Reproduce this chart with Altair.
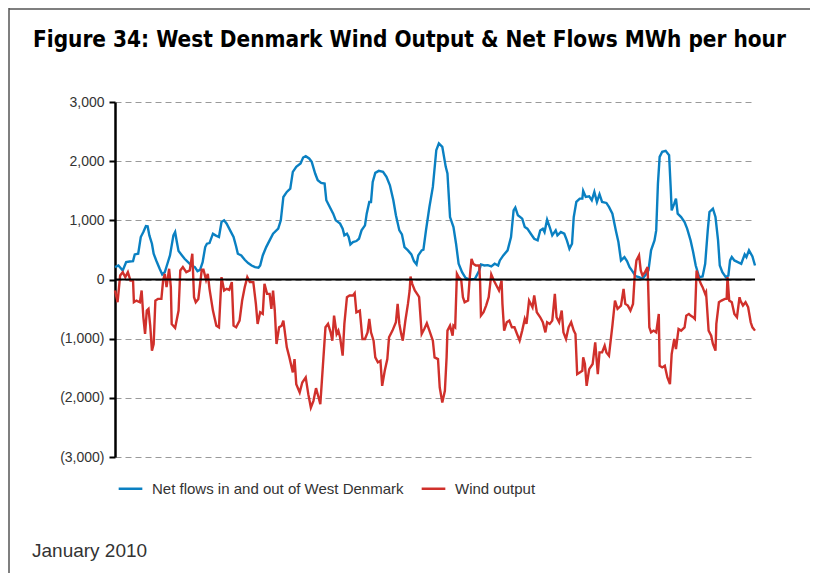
import altair as alt
import pandas as pd

SERIES = ["Net flows in and out of West Denmark", "Wind output"]

net_hours = [0, 4, 9, 13, 17, 21, 23, 27, 30, 33, 36, 38, 40, 43, 45, 48, 52, 55, 58, 61, 64, 66, 68, 70, 72, 74, 78, 81, 85, 89,
             93, 96, 99, 102, 105, 107, 110, 114, 117, 121, 124, 127, 130, 134, 138, 141, 143, 147, 151, 155, 159, 163, 167, 169, 172, 176,
             180, 184, 190, 193, 196, 200, 204, 207, 211, 216, 219, 222, 226, 229, 233, 236, 240, 244, 246, 250, 254, 257, 262, 265, 267,
             270, 272, 274, 277, 281, 284, 287, 291, 293, 296, 298, 300, 303, 307, 312, 316, 320, 324, 327, 331, 334, 337, 341, 345, 348,
             351, 353, 357, 359, 362, 366, 370, 374, 377, 381, 385, 387, 390, 394, 397, 400, 404, 408, 413, 419, 424, 426, 430, 434, 438,
             442, 446, 448, 452, 457, 461, 464, 466, 469, 474, 477, 480, 484, 488, 492, 495, 498, 500, 503, 506, 509, 513, 515, 519, 523,
             526, 529, 532, 534, 537, 541, 544, 545, 548, 552, 555, 558, 561, 564, 567, 572, 575, 579, 583, 586, 589, 593, 596, 599, 603,
             606, 610, 614, 618, 621, 624, 628, 630, 632, 634, 637, 641, 645, 647, 648, 651, 653, 655, 659, 663, 666, 670, 673, 676, 680,
             684, 687, 690, 692, 696, 699, 702, 704, 707, 711, 714, 716, 718, 721, 725, 729, 733, 735, 738, 742, 745]
net_flows = [209, 237, 153, 294, 305, 310, 424, 435, 718, 802, 904, 900, 746, 605, 435, 322, 181, 85, 124, 266, 407, 576, 746, 802, 633, 480, 407, 350, 294, 237,
             209, 141, 164, 294, 548, 605, 616, 774, 746, 718, 972, 1000, 944, 830, 718, 559, 435, 407, 333, 277, 237, 209, 198, 237, 407, 548,
             661, 774, 859, 1000, 1395, 1480, 1537, 1819, 1904, 1960, 2062, 2085, 2045, 1989, 1791, 1678, 1633, 1621, 1339, 1226, 1113, 1000, 944, 859, 746,
             774, 718, 593, 633, 650, 689, 830, 915, 1113, 1311, 1311, 1650, 1802, 1836, 1819, 1734, 1593, 1339, 1085, 830, 763, 548, 492, 424, 311,
             254, 407, 492, 503, 830, 1226, 1565, 2186, 2299, 2243, 1904, 1791, 1056, 887, 605, 266, 124, 28, 0, 11, 153, 254, 237, 243, 220,
             266, 237, 322, 407, 492, 718, 1169, 1215, 1085, 1028, 887, 859, 774, 689, 661, 830, 859, 802, 1011, 887, 746, 830, 746, 802, 774,
             661, 520, 605, 1056, 1311, 1367, 1367, 1497, 1395, 1407, 1339, 1480, 1311, 1441, 1311, 1294, 1226, 1113, 830, 633, 322, 379, 311, 209, 124,
             56, 40, 11, 85, 153, 492, 661, 830, 1621, 2073, 2158, 2175, 2102, 1508, 1169, 1282, 1367, 1113, 1056, 972, 859, 661, 463, 237, 40,
             51, 266, 830, 1141, 1198, 1056, 661, 237, 124, 40, 68, 322, 379, 322, 294, 266, 424, 379, 492, 390, 237]

wind_hours = [0, 3, 6, 9, 12, 15, 18, 21, 22, 25, 29, 31, 33, 35, 37, 39, 41, 43, 45, 47, 50, 54, 56, 58, 60, 63, 65, 66, 70, 74,
              76, 79, 83, 87, 90, 92, 94, 97, 101, 103, 106, 108, 110, 114, 118, 121, 124, 127, 130, 133, 136, 138, 141, 145, 148, 151, 154,
              157, 161, 164, 166, 169, 172, 174, 177, 180, 182, 184, 186, 188, 191, 194, 196, 200, 203, 207, 209, 211, 215, 218, 222, 225, 228,
              231, 234, 237, 239, 242, 245, 248, 251, 253, 255, 258, 260, 262, 265, 267, 270, 273, 277, 279, 281, 285, 288, 291, 294, 296, 298,
              301, 303, 306, 309, 311, 314, 317, 319, 323, 327, 329, 331, 333, 335, 338, 341, 343, 344, 346, 349, 353, 354, 357, 360, 363, 366,
              370, 372, 376, 378, 381, 384, 386, 387, 390, 393, 394, 396, 398, 400, 403, 405, 407, 411, 413, 415, 417, 420, 424, 425, 426, 429,
              432, 435, 438, 441, 444, 447, 450, 451, 453, 456, 459, 462, 465, 468, 471, 474, 477, 479, 482, 486, 488, 491, 495, 498, 501, 503,
              506, 509, 512, 514, 517, 520, 522, 525, 528, 531, 534, 536, 538, 541, 544, 545, 547, 549, 552, 556, 559, 562, 564, 567, 570, 572,
              575, 579, 582, 585, 589, 592, 594, 597, 600, 603, 605, 607, 610, 612, 614, 617, 620, 622, 624, 627, 630, 633, 634, 637, 640, 643,
              646, 648, 651, 653, 656, 659, 663, 665, 668, 670, 673, 675, 677, 679, 682, 684, 687, 688, 691, 694, 696, 699, 700, 703, 706, 710,
              712, 713, 715, 718, 721, 724, 727, 728, 731, 734, 737, 740, 742, 745]
wind_output = [-186, -384, 68, 124, 40, 124, -17, -17, -384, -356, -384, -186, -638, -921, -525, -497, -780, -1203, -1090, -356, -328, -328, -17, 96, -130, 181, -130, -751, -819, -525,
               153, 209, 124, 153, 435, -299, -384, -328, 164, 164, -6, 96, -158, -525, -780, -808, 40, -186, -158, -175, -45, -780, -808, -695, -356, -130, 40,
               -45, -45, -412, -751, -554, -582, -73, -243, -243, -497, -186, -525, -1090, -808, -780, -695, -1147, -1316, -1571, -1345, -1768, -1910, -1740, -1655, -1938, -2164,
               -2051, -1836, -1994, -2107, -1458, -808, -751, -893, -1034, -610, -921, -864, -977, -1288, -751, -299, -271, -271, -232, -554, -525, -1006, -1006, -893, -667, -893,
               -1034, -1316, -1401, -1373, -1797, -1542, -1345, -977, -864, -723, -412, -751, -910, -1034, -695, -412, -186, 51, -73, -186, -271, -299, -921, -836, -740, -864,
               -1034, -1316, -1345, -1825, -2079, -1881, -1316, -864, -780, -949, -780, -808, 96, 40, -6, -299, -384, -356, 40, 350, 266, 237, 237, -45, -610, -554,
               -441, -299, 85, -17, -102, -186, -17, -412, -864, -723, -695, -808, -808, -921, -1034, -864, -667, -751, -356, -469, -271, -554, -638, -723, -893, -723,
               -751, -695, -243, -638, -723, -525, -893, -1006, -808, -723, -864, -921, -1599, -1571, -1542, -1316, -1429, -1797, -1514, -1429, -1062, -1599, -1232, -1232, -1119, -1232,
               -1288, -780, -356, -497, -441, -158, -412, -441, -525, -412, 68, 322, 407, 153, 68, 124, 209, -808, -893, -864, -893, -582, -1458, -1486, -1458, -1655,
               -1768, -1260, -1006, -1175, -836, -864, -808, -610, -582, -610, -638, -667, 153, 40, -73, -130, -243, -215, -864, -949, -1090, -1203, -751, -384, -356, -328,
               -328, 40, -356, -384, -582, -638, -299, -356, -441, -384, -469, -723, -808, -864]

y_ticks = [-3000, -2000, -1000, 0, 1000, 2000, 3000]
title_text = "Figure 34: West Denmark Wind Output & Net Flows MWh per hour"
footer_text = "January 2010"

BLUE = "#0a80c2"
RED = "#d0302b"
FONT = "Liberation Sans"
TITLE_FONT = "'DejaVu Sans Condensed', 'Roboto Condensed', Roboto, sans-serif"

df = pd.concat([
    pd.DataFrame({"hour": net_hours, "value": net_flows, "series": SERIES[0]}),
    pd.DataFrame({"hour": wind_hours, "value": wind_output, "series": SERIES[1]}),
])

W, H = 640, 355

lines = alt.Chart(df).mark_line(strokeWidth=2.4, interpolate="linear").encode(
    x=alt.X("hour:Q", scale=alt.Scale(domain=[0, 745], nice=False, zero=False), axis=None),
    y=alt.Y("value:Q", scale=alt.Scale(domain=[-3000, 3000], nice=False),
            axis=alt.Axis(values=y_ticks, title=None,
                          labelExpr="datum.value < 0 ? '(' + format(-datum.value, ',') + ')' : format(datum.value, ',')",
                          labelFont=FONT, labelFontSize=14, labelColor="#333333", labelPadding=5,
                          tickSize=6, tickColor="#000000", tickWidth=2,
                          domainColor="#000000", domainWidth=2.5,
                          grid=True, gridColor="#9a9a9a", gridDash=[6, 4], gridWidth=1)),
    color=alt.Color("series:N", sort=SERIES,
                    scale=alt.Scale(domain=SERIES, range=[BLUE, RED]),
                    legend=alt.Legend(title=None, orient="none", direction="horizontal",
                                      legendX=2, legendY=373, labelLimit=0,
                                      symbolType="stroke", symbolSize=560, symbolStrokeWidth=2.5,
                                      labelFont=FONT, labelFontSize=15, labelColor="#333333",
                                      columnPadding=12, labelOffset=8)),
    detail="series:N",
)

zero = alt.Chart(pd.DataFrame({"v": [0]})).mark_rule(color="#000000", strokeWidth=2).encode(y="v:Q")

footer = alt.Chart(pd.DataFrame({"t": [footer_text]})).mark_text(
    align="left", baseline="middle", font=FONT, fontSize=19, color="#333333"
).encode(x=alt.value(-83), y=alt.value(449), text="t:N")

title = alt.Chart(pd.DataFrame({"t": [title_text]})).mark_text(
    align="left", baseline="middle", font=TITLE_FONT, fontSize=22.4, fontWeight="bold", color="#000000"
).encode(x=alt.value(-82), y=alt.value(-62), text="t:N")

border_top = alt.Chart(pd.DataFrame({"a": [0]})).mark_rule(color="#555555", strokeWidth=1.5).encode(
    x=alt.value(-106), x2=alt.value(W + 55), y=alt.value(-93))
border_left = alt.Chart(pd.DataFrame({"a": [0]})).mark_rule(color="#555555", strokeWidth=1.5).encode(
    x=alt.value(-106), y=alt.value(-94), y2=alt.value(H + 116))

chart = alt.layer(lines, zero, footer, title, border_top, border_left).properties(
    width=W, height=H,
    autosize=alt.AutoSizeParams(type="none"),
    padding={"left": 107, "top": 94, "right": 55, "bottom": 116},
).configure_view(stroke=None)

chart.save("out.html", embed_options={"renderer": "svg", "actions": False})
